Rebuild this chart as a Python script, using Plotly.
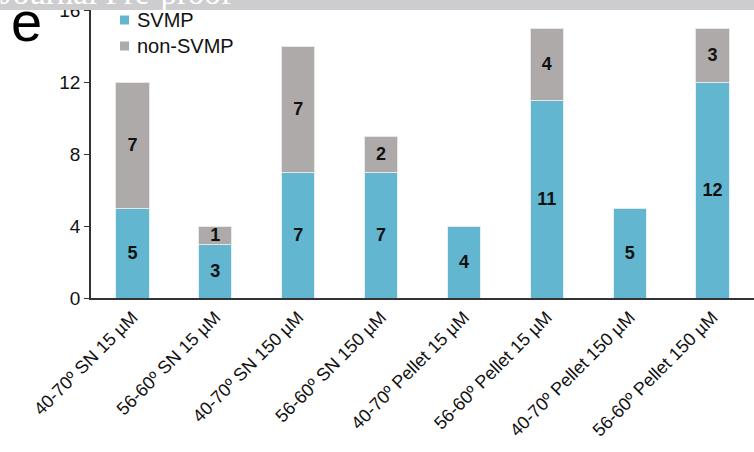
import plotly.graph_objects as go

# Protein counts per fraction
categories = [
    "40-70º SN 15 µM", "56-60º SN 15 µM", "40-70º SN 150 µM", "56-60º SN 150 µM",
    "40-70º Pellet 15 µM", "56-60º Pellet 15 µM", "40-70º Pellet 150 µM", "56-60º Pellet 150 µM",
]
svmp = [5, 3, 7, 7, 4, 11, 5, 12]
non_svmp = [7, 1, 7, 2, 0, 4, 0, 3]
y_ticks = [0, 4, 8, 12, 16]

SVMP_COLOR = "#62b6cf"
NON_SVMP_COLOR = "#aeaaa9"
FONT = "Liberation Sans, Arial"

W, H = 754, 452
ML, MR, MT, MB = 91, 0, 10, 154
PW, PH = W - ML - MR, H - MT - MB


def px(x):
    return (x - ML) / PW


def py(y):
    return 1 - (y - MT) / PH


def labels(vals):
    return [f"<b>{v}</b>" if v else "" for v in vals]


fig = go.Figure()
for name, vals, color, edge in [
    ("SVMP", svmp, SVMP_COLOR, "#e4f1f5"),
    ("non-SVMP", non_svmp, NON_SVMP_COLOR, "#e8e6e6"),
]:
    fig.add_trace(go.Bar(
        x=categories, y=vals, name=name,
        marker=dict(color=color, line=dict(color=edge, width=1)),
        text=labels(vals), textposition="inside", insidetextanchor="middle",
        textangle=0, constraintext="none",
        textfont=dict(family=FONT, size=18, color="#111"),
        width=0.4, showlegend=False,
    ))

fig.update_layout(
    barmode="stack",
    width=W, height=H,
    margin=dict(l=ML, r=MR, t=MT, b=MB),
    paper_bgcolor="white", plot_bgcolor="white",
    font=dict(family=FONT, color="#111"),
    uniformtext=dict(minsize=6, mode="show"),
    xaxis=dict(
        range=[-0.5, 7.5], showline=True, linecolor="#333", linewidth=1.5,
        ticks="", tickangle=-45, tickfont=dict(size=18, color="#111"),
        showgrid=False, zeroline=False,
    ),
    yaxis=dict(
        range=[0, 16], tickvals=y_ticks, showline=True, linecolor="#333",
        linewidth=1.5, ticks="outside", ticklen=5, tickcolor="#333",
        tickfont=dict(size=19, color="#111"), showgrid=False, zeroline=False,
        ticklabeloverflow="allow",
    ),
)

# Legend: colour squares with series names
for i, (name, color) in enumerate([("SVMP", SVMP_COLOR), ("non-SVMP", NON_SVMP_COLOR)]):
    cy = 20 + 26 * i
    fig.add_shape(
        type="rect", xref="paper", yref="paper",
        x0=px(120), x1=px(129), y0=py(cy + 4.5), y1=py(cy - 4.5),
        fillcolor=color, line=dict(width=0),
    )
    fig.add_annotation(
        x=px(135), y=py(cy), xref="paper", yref="paper", text=name,
        showarrow=False, xanchor="left", yanchor="middle",
        font=dict(size=20, color="#111", family=FONT),
    )

# Panel letter
fig.add_annotation(
    x=px(26), y=py(55), xref="paper", yref="paper", text="e",
    showarrow=False, xanchor="center", yanchor="bottom",
    font=dict(size=56, color="#000", family=FONT),
)

# Header band across the top of the page
fig.add_shape(
    type="rect", xref="paper", yref="paper",
    x0=px(0), x1=px(W), y0=py(10), y1=py(-5),
    fillcolor="#cdcdcf", line=dict(width=0), layer="above",
)
fig.add_annotation(
    x=px(-2), y=py(13), xref="paper", yref="paper", text="Journal Pre-proof",
    showarrow=False, xanchor="left", yanchor="bottom",
    font=dict(size=33, color="white", family="Liberation Serif, DejaVu Serif"),
)

fig.write_html("out.html")
